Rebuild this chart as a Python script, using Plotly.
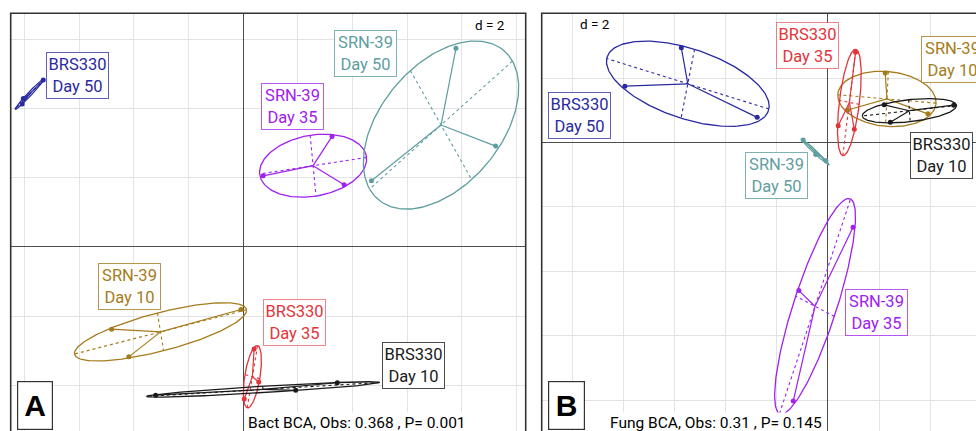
import numpy as np
import plotly.graph_objects as go

# ---------------- data ----------------
groups = ["BRS330 Day 50", "SRN-39 Day 35", "SRN-39 Day 50",
          "SRN-39 Day 10", "BRS330 Day 35", "BRS330 Day 10"]

# Panel A: bacterial between-class analysis, sample scores (3 per group)
bact_group = ["BRS330 Day 50"] * 3 + ["SRN-39 Day 35"] * 3 + ["SRN-39 Day 50"] * 3 + \
             ["SRN-39 Day 10"] * 3 + ["BRS330 Day 35"] * 3 + ["BRS330 Day 10"] * 3
bact_x = [-7.31, -8.04, -8.08, 3.25, 0.73, 3.69, 7.78, 9.23, 4.69,
          -0.08, -4.81, -4.18, 0.40, 0.57, 0.04, -3.20, 1.92, 3.44]
bact_y = [4.83, 4.30, 4.14, 3.20, 2.06, 1.80, 5.75, 2.92, 1.92,
          -1.81, -2.38, -3.18, -2.95, -3.91, -4.40, -4.29, -4.15, -3.93]
bact_obs, bact_p = 0.368, 0.001

# Panel B: fungal between-class analysis, sample scores (3 per group)
fung_group = bact_group[:]
fung_x = [-5.74, -7.95, -2.77, 0.98, -1.14, -1.36, -0.97, -0.48, -0.08,
          2.24, 0.77, 3.91, 1.08, 0.40, 1.03, 2.20, 4.92, 2.44]
fung_y = [2.94, 1.75, 0.78, -2.63, -4.60, -8.03, 0.08, -0.37, -0.57,
          2.16, 1.01, 0.89, 2.80, 0.52, 0.41, 1.17, 1.16, 0.63]
fung_obs, fung_p = 0.31, 0.145

grid_step = 2

# ---------------- layout / style ----------------
colors = {
    "BRS330 Day 50": "#2A2AA0",
    "SRN-39 Day 35": "#A020F0",
    "SRN-39 Day 50": "#5F9EA0",
    "SRN-39 Day 10": "#A57C1B",
    "BRS330 Day 35": "#E3343A",
    "BRS330 Day 10": "#1A1A1A",
}
border_colors = {
    "BRS330 Day 50": "rgba(42,42,160,0.75)",
    "SRN-39 Day 35": "rgba(160,32,240,0.75)",
    "SRN-39 Day 50": "rgba(95,158,160,0.8)",
    "SRN-39 Day 10": "rgba(165,124,27,0.8)",
    "BRS330 Day 35": "rgba(227,52,58,0.6)",
    "BRS330 Day 10": "rgba(30,30,30,0.8)",
}
# label box centres, in axis units
bact_label_pos = {
    "BRS330 Day 50": (-6.04, 4.97), "SRN-39 Day 35": (1.79, 4.08),
    "SRN-39 Day 50": (4.48, 5.61), "SRN-39 Day 10": (-4.17, -1.15),
    "BRS330 Day 35": (1.86, -2.19), "BRS330 Day 10": (6.24, -3.43),
}
fung_label_pos = {
    "BRS330 Day 50": (-9.71, 0.84), "SRN-39 Day 50": (-2.02, -1.04),
    "BRS330 Day 35": (-0.80, 3.00), "SRN-39 Day 10": (4.89, 2.59),
    "BRS330 Day 10": (4.43, -0.39), "SRN-39 Day 35": (1.89, -5.27),
}

W, H = 976, 431
FONT = "Roboto, Liberation Sans, Arial"

fig = go.Figure()


def add_panel(fig, gx, gy, gnames, xa, ya, label_pos):
    gx = np.asarray(gx, float)
    gy = np.asarray(gy, float)
    gnames = np.asarray(gnames)
    for g in groups:
        m = gnames == g
        pts = np.column_stack([gx[m], gy[m]])
        c = pts.mean(axis=0)
        cov = np.cov(pts.T, bias=True)
        vals, vecs = np.linalg.eigh(cov)
        vals = np.clip(vals, 0, None)
        half = 1.5 * np.sqrt(vals)
        col = colors[g]
        t = np.linspace(0, 2 * np.pi, 200)
        ell = c[None, :] + np.outer(half[1] * np.cos(t), vecs[:, 1]) + \
            np.outer(half[0] * np.sin(t), vecs[:, 0])
        fig.add_trace(go.Scatter(x=ell[:, 0], y=ell[:, 1], mode="lines",
                                 line=dict(color=col, width=1.3),
                                 xaxis=xa, yaxis=ya, hoverinfo="skip"))
        # ellipse axes (dashed)
        ax_x, ax_y = [], []
        for k in range(2):
            p1 = c - half[k] * vecs[:, k]
            p2 = c + half[k] * vecs[:, k]
            ax_x += [p1[0], p2[0], None]
            ax_y += [p1[1], p2[1], None]
        fig.add_trace(go.Scatter(x=ax_x, y=ax_y, mode="lines",
                                 line=dict(color=col, width=1.1, dash="3px,3px"),
                                 xaxis=xa, yaxis=ya, hoverinfo="skip"))
        # star
        sx, sy = [], []
        for p in pts:
            sx += [c[0], p[0], None]
            sy += [c[1], p[1], None]
        fig.add_trace(go.Scatter(x=sx, y=sy, mode="lines",
                                 line=dict(color=col, width=1.2),
                                 xaxis=xa, yaxis=ya, hoverinfo="skip"))
        fig.add_trace(go.Scatter(x=pts[:, 0], y=pts[:, 1], mode="markers",
                                 marker=dict(color=col, size=5),
                                 xaxis=xa, yaxis=ya, hoverinfo="skip"))
        lx, ly = label_pos[g]
        name1, name2 = g.split(" ", 1)
        fig.add_annotation(x=lx, y=ly, xref=xa, yref=ya,
                           text=f"{name1}<br>{name2}", showarrow=False,
                           font=dict(family=FONT, size=16.5, color=col),
                           bgcolor="white", bordercolor=border_colors[g],
                           borderwidth=1, borderpad=1, width=59, height=43,
                           xanchor="center", yanchor="middle")


add_panel(fig, bact_x, bact_y, bact_group, "x", "y", bact_label_pos)
add_panel(fig, fung_x, fung_y, fung_group, "x2", "y2", fung_label_pos)

# panel geometry (pixels)
A_left, A_right, top = 10.7, 525.7, 13.3
B_left = 541.7
ytop = 1 - top / H

axis_common = dict(showticklabels=False, ticks="", showline=False,
                   showgrid=True, gridcolor="#E3E3E3", gridwidth=1.3,
                   zeroline=True, zerolinecolor="#4D4D4D", zerolinewidth=1.2,
                   tick0=0, dtick=grid_step, fixedrange=True)

fig.update_layout(
    width=W, height=H, margin=dict(l=0, r=0, t=0, b=0),
    paper_bgcolor="white", plot_bgcolor="white", showlegend=False,
    xaxis=dict(domain=[A_left / W, A_right / W], range=[-8.50, 10.33], **axis_common),
    yaxis=dict(domain=[0, ytop], range=[-5.326, 6.764], **axis_common),
    xaxis2=dict(domain=[B_left / W, 1.0], range=[-11.205, 5.793], anchor="y2", **axis_common),
    yaxis2=dict(domain=[0, ytop], range=[-8.96, 4.012], anchor="x2", **axis_common),
)

# frames
fig.add_shape(type="rect", xref="paper", yref="paper",
              x0=A_left / W, x1=A_right / W, y0=-0.02, y1=ytop,
              line=dict(color="#333333", width=1.6), layer="above")
fig.add_shape(type="rect", xref="paper", yref="paper",
              x0=B_left / W, x1=1.02, y0=-0.02, y1=ytop,
              line=dict(color="#333333", width=1.6), layer="above")

# d = 2
for px, py in [(490, 25), (595, 24.5)]:
    fig.add_annotation(x=px / W, y=1 - py / H, xref="paper", yref="paper",
                       text=f"d = {grid_step}", showarrow=False,
                       font=dict(family=FONT, size=13.5, color="black"),
                       xanchor="center", yanchor="middle", bgcolor="white")

# panel letters
for letter, x0, x1 in [("A", 16.7, 52.7), ("B", 548.3, 585.3)]:
    fig.add_annotation(x=(x0 + x1) / 2 / W, y=1 - 405 / H, xref="paper", yref="paper",
                       text=f"<b>{letter}</b>", showarrow=False,
                       font=dict(family="Liberation Sans, Arial", size=30, color="black"),
                       bgcolor="white", bordercolor="#333333", borderwidth=1.2,
                       width=x1 - x0 - 2, height=47, borderpad=0,
                       xanchor="center", yanchor="middle")

# statistics
for txt, px in [(f"Bact BCA, Obs: {bact_obs} , P= {bact_p}", 246),
                (f"Fung BCA, Obs: {fung_obs} , P= {fung_p}", 608)]:
    fig.add_annotation(x=px / W, y=1 - 412 / H, xref="paper", yref="paper",
                       text=txt, showarrow=False,
                       font=dict(family=FONT, size=15.5, color="black"),
                       bgcolor="white", borderpad=1,
                       xanchor="left", yanchor="top")

fig.write_html("out.html", config={"displayModeBar": False},
               post_script="document.body.style.margin='0px';document.body.style.overflow='hidden';")
